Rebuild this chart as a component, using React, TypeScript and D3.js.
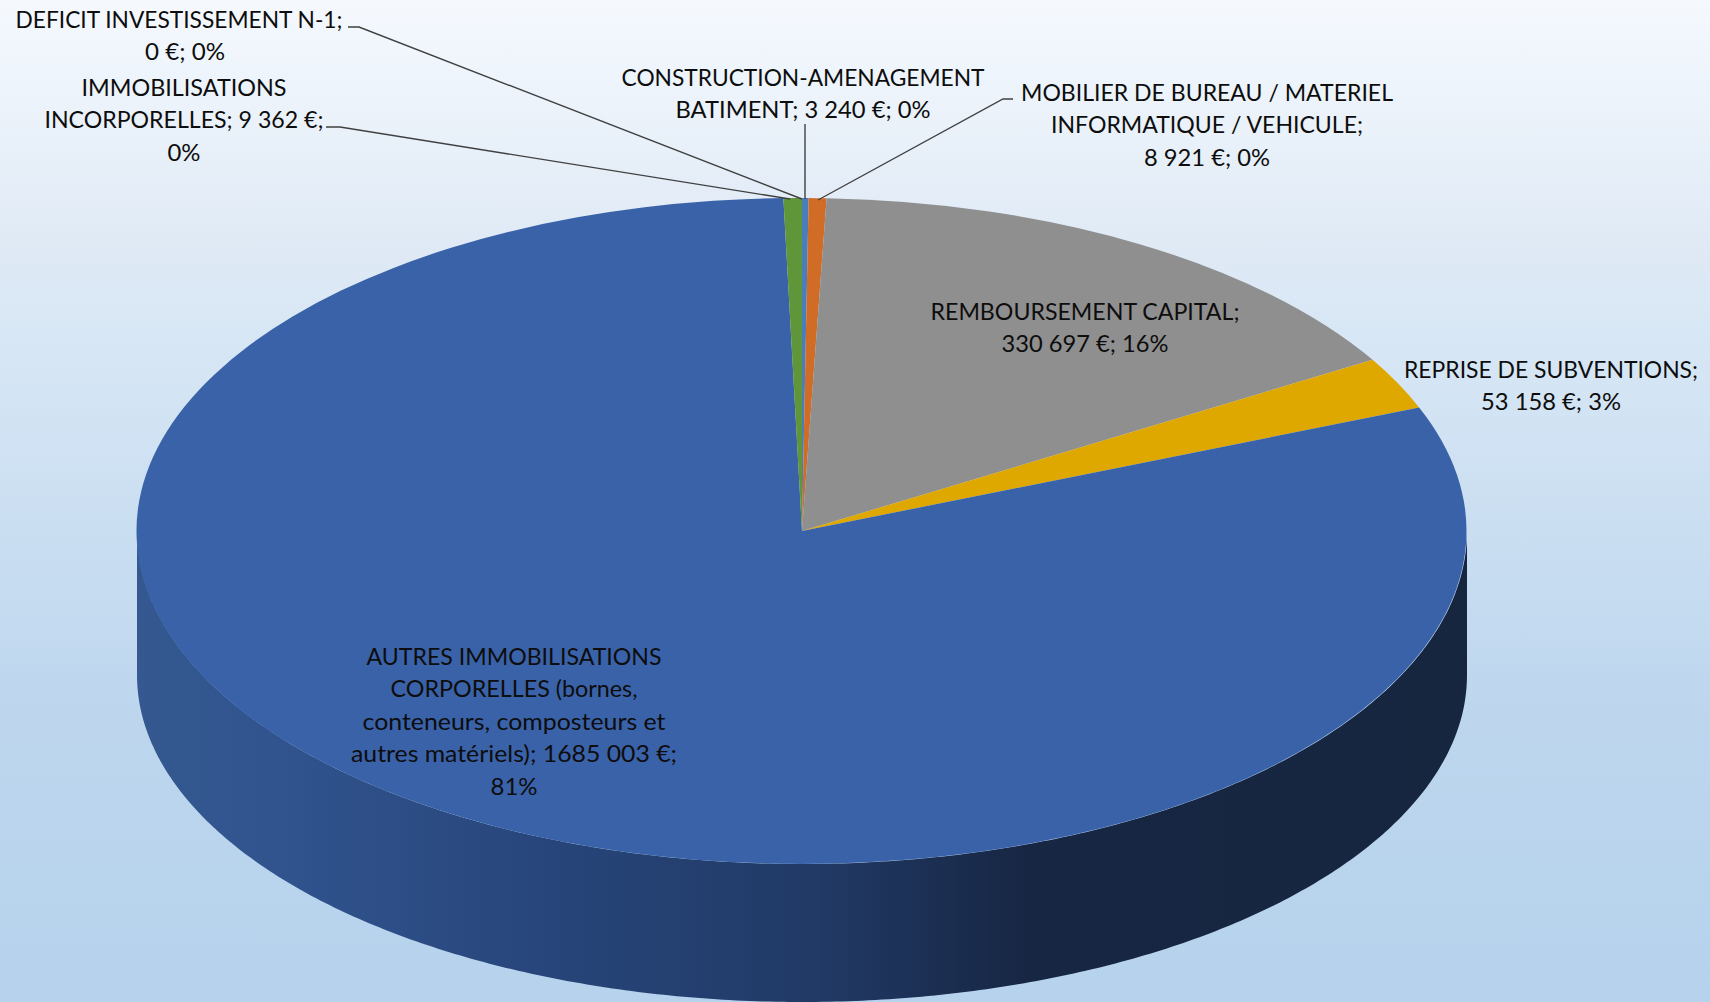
import React from "react";
import * as d3 from "d3";

const categories = [
  "CONSTRUCTION-AMENAGEMENT BATIMENT",
  "MOBILIER DE BUREAU / MATERIEL INFORMATIQUE / VEHICULE",
  "REMBOURSEMENT CAPITAL",
  "REPRISE DE SUBVENTIONS",
  "AUTRES IMMOBILISATIONS CORPORELLES",
  "IMMOBILISATIONS INCORPORELLES",
  "DEFICIT INVESTISSEMENT N-1",
];
const values = [3240, 8921, 330697, 53158, 1685003, 9362, 0];
const colors = ["#4a7ebb", "#d06c26", "#8f8f8f", "#dfa800", "#3a62a9", "#5f9639", "#4a7ebb"];

const labelLines = [
  ["CONSTRUCTION-AMENAGEMENT", "BATIMENT; 3 240 €; 0%"],
  ["MOBILIER DE BUREAU / MATERIEL", "INFORMATIQUE / VEHICULE;", "8 921 €; 0%"],
  ["REMBOURSEMENT CAPITAL;", "330 697 €; 16%"],
  ["REPRISE DE SUBVENTIONS;", "53 158 €; 3%"],
  ["AUTRES IMMOBILISATIONS", "CORPORELLES (bornes,", "conteneurs, composteurs et", "autres matériels); 1685 003 €;", "81%"],
  ["IMMOBILISATIONS", "INCORPORELLES; 9 362 €;", "0%"],
  ["DEFICIT INVESTISSEMENT N-1;", "0 €; 0%"],
];
const lineWidths = [
  [363, 255],
  [372, 312, 126],
  [309, 167],
  [294, 140],
  [295, 247, 303, 326, 47],
  [205, 279, 33],
  [327, 80],
];
const labelCenters: [number, number][] = [
  [803, 76.5], [1207, 92], [1085, 311], [1551, 368.5], [514, 656], [184, 87], [185, 19],
];
const lineOffsets = [[0, 0], [0, 0, 0], [0, 0], [0, 0], [0, 0, 0, 0, 0], [0, 0, 0], [-6, 0]];
const leaders: [number, number][][] = [
  [[805, 124], [805, 199]],
  [[1013, 99], [1003, 99], [818, 200]],
  [], [], [],
  [[326, 127], [340, 127], [790, 199]],
  [[348, 27], [359, 27], [802, 199]],
];

const W = 1710, H = 1002;
const cx = 802, cy = 531, rx = 665, ry = 333;
const baseCy = 675, baseRy = 327;

export default function App() {
  const pie = d3.pie<number>().sort(null).value((d) => d).startAngle(0).endAngle(2 * Math.PI);
  const arcs = pie(values);
  const arc = d3.arc<d3.PieArcDatum<number>>().innerRadius(0).outerRadius(1);
  const thetas = d3.range(Math.PI / 2, (3 * Math.PI) / 2 + 0.001, 0.01);
  const wall = d3
    .area<number>()
    .x((t) => cx + rx * Math.sin(t))
    .y0((t) => cy - ry * Math.cos(t))
    .y1((t) => baseCy - baseRy * Math.cos(t))(thetas) as string;
  const line = d3.line();
  return (
    <svg width={W} height={H} viewBox={`0 0 ${W} ${H}`} style={{ position: "absolute", left: 0, top: 0, display: "block" }}>
      <defs>
        <linearGradient id="bg" x1="0" y1="0" x2="0" y2="1">
          <stop offset="0" stopColor="#f5f9fe" />
          <stop offset="0.26" stopColor="#dee9f5" />
          <stop offset="0.33" stopColor="#d8e7f5" />
          <stop offset="0.71" stopColor="#bdd6ee" />
          <stop offset="1" stopColor="#b6d2ec" />
        </linearGradient>
        <linearGradient id="side" gradientUnits="userSpaceOnUse" x1={cx - rx} y1="0" x2={cx + rx} y2="0">
          <stop offset="0" stopColor="#34588f" />
          <stop offset="0.1" stopColor="#31548f" />
          <stop offset="0.31" stopColor="#27457a" />
          <stop offset="0.51" stopColor="#213a66" />
          <stop offset="0.67" stopColor="#172643" />
          <stop offset="1" stopColor="#16263f" />
        </linearGradient>
      </defs>
      <rect width={W} height={H} fill="url(#bg)" />
      <path d={wall} fill="url(#side)" />
      <g transform={`translate(${cx},${cy}) scale(${rx},${ry})`}>
        {arcs.map((a, i) => (
          <path key={categories[i]} d={arc(a) as string} fill={colors[i]} />
        ))}
      </g>
      <g fill="none" stroke="#404040" strokeWidth={1.4}>
        {leaders.map((l, i) => (l.length ? <path key={i} d={line(l) as string} /> : null))}
      </g>
      <g fontFamily="Lato, 'Open Sans', sans-serif" fontSize={23} fill="#0d0d0d" textAnchor="middle">
        {labelLines.map((lines, i) =>
          lines.map((t, j) => (
            <text
              key={i + "-" + j}
              x={labelCenters[i][0] + lineOffsets[i][j]}
              y={labelCenters[i][1] + j * 32.4}
              dominantBaseline="central"
              textLength={lineWidths[i][j]}
              lengthAdjust="spacingAndGlyphs"
            >
              {t}
            </text>
          ))
        )}
      </g>
    </svg>
  );
}
